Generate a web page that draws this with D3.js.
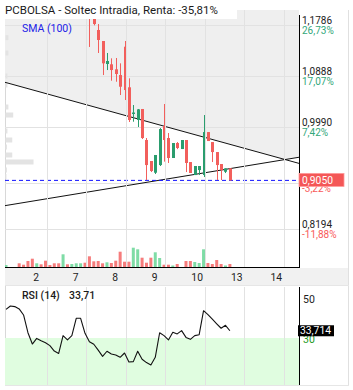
<!DOCTYPE html>
<html>
<head>
<meta charset="utf-8">
<script src="https://cdn.jsdelivr.net/npm/d3@7"></script>
<style>
body { margin: 0; background: #fff; }
svg { display: block; font-family: Roboto, "Noto Sans", sans-serif; }
</style>
</head>
<body>
<svg id="chart" width="353" height="390"></svg>
<script>
// data
var title = "PCBOLSA - Soltec Intradia, Renta: -35,81%";
var smaLabel = "SMA (100)";

var opens  = [1.395,1.405,1.405,1.400,1.385,1.372,1.350,1.325,1.335,1.322,1.300,1.295,1.280,1.265,1.300,1.285,1.295,1.330,1.330,1.280,
              1.215,1.1698,1.1504,1.1099,1.1094,1.1006,1.0905,1.1404,1.0689,1.0219,1.0113,1.0307,0.9761,0.9391,0.9185,0.9320,
              1.0007,0.9796,0.9444,0.9708,0.9602,0.9761,0.9373,0.9144,0.9232,0.9144,0.9901,0.9725,0.9549,0.9338,0.9202,0.9262];
var closes = [1.405,1.405,1.405,1.385,1.372,1.350,1.325,1.335,1.322,1.300,1.295,1.280,1.265,1.300,1.285,1.295,1.330,1.332,1.280,1.230,
              1.1803,1.1522,1.1111,1.1152,1.0993,1.0923,1.0699,1.0641,1.0113,1.0245,1.0301,0.9796,0.9320,0.9215,0.9497,0.9954,
              0.9761,0.9444,0.9708,0.9620,0.9761,0.9356,0.9180,0.9303,0.9303,0.9901,0.9743,0.9549,0.9320,0.9232,0.9262,0.9050];
var highs  = [1.410,1.405,1.405,1.402,1.388,1.375,1.352,1.338,1.338,1.324,1.304,1.298,1.283,1.305,1.302,1.298,1.335,1.336,1.332,1.282,
              1.220,1.1803,1.1504,1.1293,1.1199,1.1205,1.1111,1.1504,1.0847,1.0377,1.0307,1.0307,0.9796,0.9391,0.9497,0.9972,
              1.0395,0.9884,0.9708,0.9725,0.9761,0.9761,0.9373,0.9303,0.9303,1.0201,0.9901,0.9725,0.9549,0.9338,0.9262,0.9262];
var lows   = [1.390,1.405,1.405,1.383,1.370,1.347,1.322,1.322,1.320,1.298,1.290,1.277,1.262,1.262,1.282,1.283,1.292,1.326,1.278,1.1399,
              1.1780,1.1293,1.0905,1.0993,1.0805,1.0787,1.0553,1.0465,1.0078,1.0083,0.9990,0.9778,0.9056,0.9197,0.9162,0.9303,
              0.9380,0.9356,0.9444,0.9600,0.9602,0.9197,0.9180,0.9144,0.9144,0.9109,0.9743,0.9373,0.9056,0.9056,0.9179,0.9050];
var volumes = [20,0,0,37,23,60,83,37,27,63,20,37,37,127,27,30,37,37,43,107,
               57,60,37,47,40,63,153,53,53,193,177,93,43,93,147,90,
               23,23,15,30,0,60,60,50,40,177,40,30,70,30,15,30];
var rsi = [44.7,46.4,46.1,44.9,41.8,32.7,26.9,29.8,28.6,27.6,26.1,23.3,22.1,31.2,29.0,31.2,40.1,40.1,32.4,28.1,
           26.8,23.8,20.6,23.2,21.8,21.3,20.1,22.3,17.7,17.9,23.2,19.1,17.4,16.2,20.1,32.7,
           31.2,29.0,32.9,32.1,33.8,30.3,29.3,31.2,31.7,44.0,42.0,39.7,37.3,35.0,36.5,33.71];

var dayLabels = ["2", "7", "8", "9", "10", "13", "14"];
var dayBounds = [9.3, 18.3, 27.3, 36.3, 45.3, 54.3, 63.3];

var priceTicks = [1.1786, 1.0888, 0.9990, 0.9000, 0.8194];
var priceTickText = ["1,1786", "1,0888", "0,9990", "", "0,8194"];
var pctTickText = ["26,73%", "17,07%", "7,42%", "-3,22%", "-11,88%"];
var lastPrice = 0.9050, lastPriceText = "0,9050";

// volume at price (left profile)
var profPrices = [1.1563,1.1293,1.0888,1.0730,1.0342,1.0201,0.9920,0.9761,0.9638,0.9497,0.9374,0.9233,0.9118];
var profVol    = [3,3,2,2,3,8,2,7,1.5,7,29,1.5,1];

// trend lines [index, price]
var trendA = [[0, 1.0772], [51, 0.9685]];
var trendB = [[0, 0.8608], [51, 0.9257]];

var rsiLabel = "RSI (14)", rsiLast = "33,71", rsiLastBox = "33,714";
var rsiTicks = [50, 30];

// layout
var L = 5, R = 299, T = 10, B = 267;
var RT = 287, RB = 385;
var svg = d3.select("#chart");

var x = d3.scaleLinear().domain([0, 51]).range([6, 6 + 51 * 4.39]);
var y = d3.scaleLinear().domain([0.8194, 1.1786]).range([229, 25]);
var yv = d3.scaleLinear().domain([0, 200]).range([B, B - 20]);
var yr = d3.scaleLinear().domain([30, 50]).range([338, 299]);
var xp = d3.scaleLinear().domain([0, 30]).range([0, 29]);

var RED = "#f25f5c", GREEN = "#2a9d6e";

svg.append("defs").append("clipPath").attr("id", "clipMain")
  .append("rect").attr("x", L).attr("y", T).attr("width", R - L).attr("height", B - T);

// frame
svg.append("line").attr("x1", L + 0.5).attr("x2", L + 0.5).attr("y1", T).attr("y2", RB).attr("stroke", "#d8d8d8");
svg.append("line").attr("x1", 348.5).attr("x2", 348.5).attr("y1", T).attr("y2", RB).attr("stroke", "#e0e0e0");

// main panel
var main = svg.append("g").attr("clip-path", "url(#clipMain)");

function lineAt(tl, i){
    var a = tl[0], b = tl[1];
    return a[1] + (b[1] - a[1]) * (i - a[0]) / (b[0] - a[0]);
}
var iL = x.invert(L), iR = x.invert(R);
// where the two trend lines cross
var sA = (trendA[1][1] - trendA[0][1]) / (trendA[1][0] - trendA[0][0]);
var sB = (trendB[1][1] - trendB[0][1]) / (trendB[1][0] - trendB[0][0]);
var iX = (trendB[0][1] - trendA[0][1]) / (sA - sB);
var env = [[iL, Math.max(lineAt(trendA, iL), lineAt(trendB, iL))],
           [iX, lineAt(trendA, iX)],
           [iR, Math.max(lineAt(trendA, iR), lineAt(trendB, iR))]];
var shade = [[L, T]].concat(env.map(function(d){ return [x(d[0]), y(d[1])]; })).concat([[R, T]]);
main.append("path").attr("d", d3.line()(shade) + "Z").attr("fill", "#efefef");

// grid
main.selectAll(".hg").data(priceTicks).enter().append("line")
  .attr("x1", L).attr("x2", R)
  .attr("y1", function(d){ return Math.round(y(d)) + 0.5; })
  .attr("y2", function(d){ return Math.round(y(d)) + 0.5; })
  .attr("stroke", "#e2e2e2").attr("stroke-width", 1);
svg.selectAll(".vg").data(dayBounds).enter().append("line")
  .attr("x1", function(d){ return Math.round(x(d)) + 0.5; })
  .attr("x2", function(d){ return Math.round(x(d)) + 0.5; })
  .attr("y1", T).attr("y2", B)
  .attr("stroke", "#e2e2e2");

// volume profile
main.selectAll(".prof").data(profPrices).enter().append("rect")
  .attr("x", L + 0.5)
  .attr("y", function(d){ return y(d) - 2.5; })
  .attr("width", function(d, i){ return xp(profVol[i]); })
  .attr("height", 5)
  .attr("fill", "#e3e3e3");

// trend lines
[trendA, trendB].forEach(function(tl){
    main.append("line")
      .attr("x1", L).attr("y1", y(lineAt(tl, iL)))
      .attr("x2", R).attr("y2", y(lineAt(tl, iR)))
      .attr("stroke", "#111").attr("stroke-width", 1);
});

// volume bars
var idx = d3.range(opens.length);
main.selectAll(".vol").data(idx).enter().append("rect")
  .attr("x", function(i){ return x(i) - 1.5; })
  .attr("y", function(i){ return yv(volumes[i]); })
  .attr("width", 3)
  .attr("height", function(i){ return B - yv(volumes[i]); })
  .attr("fill", function(i){ return closes[i] >= opens[i] ? "#7fdca6" : "#f67c7c"; });

// last price line
main.append("line")
  .attr("x1", L).attr("x2", R)
  .attr("y1", y(lastPrice)).attr("y2", y(lastPrice))
  .attr("stroke", "#1010ff").attr("stroke-width", 1).attr("stroke-dasharray", "4,3");

// candles
var c = main.selectAll(".candle").data(idx).enter().append("g");
c.append("line")
  .attr("x1", function(i){ return Math.round(x(i)) + 0.5; })
  .attr("x2", function(i){ return Math.round(x(i)) + 0.5; })
  .attr("y1", function(i){ return y(highs[i]); })
  .attr("y2", function(i){ return y(lows[i]); })
  .attr("stroke", function(i){ return closes[i] >= opens[i] ? GREEN : RED; });
c.append("rect")
  .attr("x", function(i){ return Math.round(x(i)) - 1; })
  .attr("y", function(i){ return y(Math.max(opens[i], closes[i])); })
  .attr("width", 3)
  .attr("height", function(i){ return Math.max(1, Math.abs(y(opens[i]) - y(closes[i]))); })
  .attr("fill", function(i){ return closes[i] >= opens[i] ? GREEN : RED; });

// title box
svg.append("rect").attr("x", 0).attr("y", 0).attr("width", 237).attr("height", 19).attr("fill", "#fff");
svg.append("text").attr("x", 5).attr("y", 14).attr("font-size", 11.5).attr("fill", "#1a1a1a").text(title);
svg.append("text").attr("x", 22).attr("y", 32).attr("font-size", 10.5).attr("fill", "#2020e8").text(smaLabel);

// axes
svg.append("line").attr("x1", R + 0.5).attr("x2", R + 0.5).attr("y1", T + 5).attr("y2", B).attr("stroke", "#000");
svg.append("line").attr("x1", L).attr("x2", R + 1).attr("y1", B + 0.5).attr("y2", B + 0.5).attr("stroke", "#000");

// right price labels
var pl = svg.append("g").attr("font-size", 10);
pl.selectAll(".pt").data(priceTicks.filter(function(d, i){ return priceTickText[i]; })).enter().append("text")
  .attr("x", 302).attr("y", function(d){ return y(d) - 5; })
  .attr("dy", "0.35em").attr("fill", "#222")
  .text(function(d){ return priceTickText[priceTicks.indexOf(d)]; });
pl.selectAll(".pp").data(priceTicks).enter().append("text")
  .attr("x", 302).attr("y", function(d){ return y(d) + 5; })
  .attr("dy", "0.35em")
  .attr("fill", function(d, i){ return pctTickText[i].charAt(0) == "-" ? "#f85a5a" : "#33a77a"; })
  .text(function(d, i){ return pctTickText[i]; });
svg.append("rect").attr("x", 299).attr("y", y(lastPrice) - 7).attr("width", 45).attr("height", 13)
  .attr("fill", "#f45757").attr("stroke", "#ff9a9a").attr("stroke-width", 0.8);
svg.append("text").attr("x", 302).attr("y", y(lastPrice)).attr("dy", "0.35em")
  .attr("font-size", 10.3).attr("fill", "#fff").text(lastPriceText);

// x axis band
svg.append("rect").attr("x", L).attr("y", B + 1).attr("width", 348 - L).attr("height", 17).attr("fill", "#f1f1f1");
svg.selectAll(".dl").data(dayBounds).enter().append("text")
  .attr("x", function(d){ return x(d) - 13.5; })
  .attr("y", B + 10).attr("dy", "0.35em")
  .attr("font-size", 10.3).attr("fill", "#222")
  .text(function(d, i){ return dayLabels[i]; });

// RSI panel
svg.append("rect").attr("x", L).attr("y", yr(30)).attr("width", R - L).attr("height", RB - yr(30)).attr("fill", "#e0fde0");
svg.append("line").attr("x1", L).attr("x2", 349).attr("y1", RT - 1.5).attr("y2", RT - 1.5).attr("stroke", "#e6e6e6");
svg.append("line").attr("x1", L).attr("x2", 349).attr("y1", RB + 0.5).attr("y2", RB + 0.5).attr("stroke", "#e6e6e6");
svg.selectAll(".rvg").data(dayBounds).enter().append("line")
  .attr("x1", function(d){ return Math.round(x(d)) + 0.5; })
  .attr("x2", function(d){ return Math.round(x(d)) + 0.5; })
  .attr("y1", RT).attr("y2", RB)
  .attr("stroke", "#e2e2e2");
svg.append("line").attr("x1", R + 0.5).attr("x2", R + 0.5).attr("y1", RT).attr("y2", RB).attr("stroke", "#000");

svg.append("path").datum(rsi)
  .attr("fill", "none").attr("stroke", "#111").attr("stroke-width", 1.1)
  .attr("stroke-linejoin", "round")
  .attr("d", d3.line().x(function(d, i){ return x(i); }).y(function(d){ return yr(d); }));

svg.append("text").attr("x", 22).attr("y", 295).attr("dy", "0.35em").attr("font-size", 10.5).attr("font-weight", 500).attr("fill", "#1a1a1a").text(rsiLabel);
svg.append("text").attr("x", 69).attr("y", 295).attr("dy", "0.35em").attr("font-size", 10.5).attr("font-weight", 500).attr("fill", "#1a1a1a").text(rsiLast);

svg.selectAll(".rt").data(rsiTicks).enter().append("text")
  .attr("x", 303).attr("y", function(d){ return yr(d) + (d == 30 ? 1.5 : 0); }).attr("dy", "0.35em")
  .attr("font-size", 10.5)
  .attr("fill", function(d){ return d == 30 ? "#1a9a1a" : "#222"; })
  .text(function(d){ return d; });
var rl = yr(rsi[rsi.length - 1]);
svg.append("rect").attr("x", 298).attr("y", rl - 5.5).attr("width", 36).attr("height", 11).attr("fill", "#000");
svg.append("text").attr("x", 300).attr("y", rl).attr("dy", "0.35em").attr("font-size", 10.3).attr("fill", "#fff").text(rsiLastBox);
</script>
</body>
</html>
